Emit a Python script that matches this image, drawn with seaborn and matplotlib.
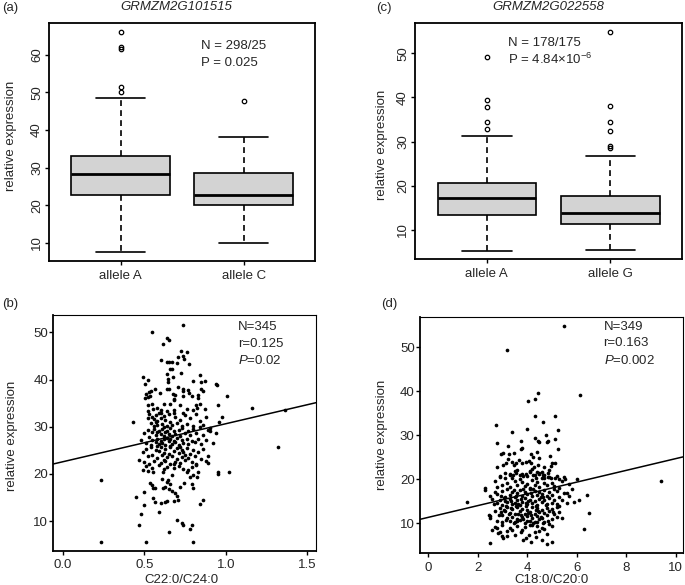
import pandas as pd
import seaborn as sns
import matplotlib.pyplot as plt

expr_a_A = [7.5, 12.0, 15.5, 18.0, 20.0, 21.5, 22.8, 24.0, 25.0, 26.0, 27.0, 27.8,
            28.3, 29.0, 30.0, 31.0, 32.0, 32.7, 33.2, 48.6, 50.2, 51.5, 61.6, 62.1, 66.1]
expr_a_C = [10.0, 14.0, 18.0, 20.0, 21.0, 22.0, 22.8, 24.5, 26.5, 28.6, 33.0, 38.1, 47.6]
alleles_a = ["allele A", "allele C"]

# (c) GRMZM2G022558 expression by allele
expr_c_A = [5.2, 7.5, 9.5, 11.0, 12.0, 12.8, 13.3, 14.0, 15.0, 15.8, 16.5, 17.0,
            17.25, 17.8, 18.5, 19.2, 19.8, 20.3, 20.7, 31.35, 32.9, 34.4, 37.9, 39.3, 49.2]
expr_c_G = [5.4, 6.8, 8.0, 9.0, 10.0, 10.7, 11.1, 11.36, 11.8, 12.3, 12.8, 13.2, 13.5, 13.7,
            13.9, 14.5, 15.0, 15.6, 16.2, 16.8, 17.3, 17.7, 26.75, 28.5, 29.0, 32.4, 34.4,
            38.07, 54.9]
alleles_c = ["allele A", "allele G"]

# (b) C22:0/C24:0 vs relative expression (approximate points)
pts_b_sparse = [(0.43, 31.0), (0.235, 18.8), (0.235, 5.5), (0.51, 5.5), (0.80, 5.5), (0.65, 7.6),
                (0.73, 9.5), (0.74, 9.1), (0.70, 10.2), (0.79, 9.2), (0.78, 8.4), (0.47, 9.1),
                (0.48, 11.5), (0.59, 12.0), (0.50, 13.5), (0.45, 15.2), (0.50, 16.2), (0.84, 13.6),
                (0.86, 14.4), (1.02, 20.4), (0.955, 20.4), (0.955, 20.0), (0.89, 23.8), (0.89, 22.3),
                (0.94, 28.6), (0.96, 31.0), (0.975, 32.1), (0.955, 34.7), (1.01, 36.5), (0.94, 39.0),
                (1.163, 33.9), (1.36, 33.5), (1.32, 25.7), (0.89, 29.4)]
pts_b_top = [(0.74, 51.6), (0.549, 50.2), (0.637, 48.8), (0.649, 48.5), (0.617, 47.6), (0.723, 46.1),
             (0.76, 45.9), (0.709, 44.9), (0.735, 45.1), (0.743, 44.3), (0.60, 44.2), (0.637, 43.7),
             (0.653, 43.7), (0.672, 43.8), (0.702, 43.6), (0.776, 43.3), (0.658, 42.3), (0.668, 42.3),
             (0.637, 41.1), (0.725, 41.3), (0.678, 40.6), (0.49, 40.6), (0.525, 39.9), (0.502, 39.0),
             (0.643, 40.1), (0.647, 39.4), (0.84, 40.9), (0.80, 39.7), (0.85, 39.4), (0.87, 39.6),
             (0.944, 38.9), (0.566, 38.1), (0.637, 38.0), (0.653, 38.0), (0.709, 38.5), (0.739, 38.0),
             (0.77, 37.9), (0.51, 37.0), (0.527, 37.3), (0.541, 37.6), (0.596, 37.2), (0.678, 36.9),
             (0.688, 36.7), (0.739, 37.5), (0.776, 37.2), (0.85, 38.0), (0.862, 37.6), (0.831, 36.8),
             (0.505, 36.0), (0.52, 36.3), (0.535, 36.5), (0.68, 35.9), (0.685, 35.6), (0.74, 36.5),
             (0.79, 36.6), (0.83, 36.2), (0.52, 34.6), (0.545, 34.9), (0.62, 34.9), (0.66, 34.9),
             (0.72, 34.6), (0.82, 34.7), (0.84, 34.9), (0.525, 33.4), (0.555, 33.7), (0.575, 33.9),
             (0.605, 33.5), (0.64, 33.4), (0.68, 33.5), (0.76, 33.8), (0.80, 33.5), (0.825, 33.9),
             (0.87, 33.7)]
pts_b_mid = [(0.53, 32.8), (0.55, 32.1), (0.56, 31.6), (0.57, 32.5), (0.58, 31.2), (0.59, 32.9),
             (0.60, 31.8), (0.61, 30.6), (0.62, 32.3), (0.63, 31.4), (0.58, 30.4), (0.56, 30.2),
             (0.54, 30.8), (0.52, 31.9), (0.64, 30.1), (0.65, 32.6), (0.66, 31.0), (0.67, 30.3),
             (0.69, 32.0), (0.70, 30.8), (0.72, 31.5), (0.73, 30.1), (0.75, 32.4), (0.76, 30.6),
             (0.78, 31.8), (0.80, 30.2), (0.82, 32.6), (0.84, 31.2), (0.86, 30.4), (0.88, 32.1),
             (0.90, 29.8), (0.60, 33.0), (0.68, 33.0), (0.74, 32.9), (0.57, 31.0),
             (0.48, 27.2), (0.50, 28.6), (0.51, 26.5), (0.52, 29.3), (0.53, 27.8), (0.54, 26.2),
             (0.55, 28.9), (0.55, 27.1), (0.56, 29.6), (0.57, 26.8), (0.57, 28.2), (0.58, 27.5),
             (0.59, 29.0), (0.59, 26.3), (0.60, 28.4), (0.60, 27.0), (0.61, 29.5), (0.61, 26.6),
             (0.62, 28.0), (0.62, 27.3), (0.63, 28.8), (0.63, 26.1), (0.64, 27.7), (0.64, 29.2),
             (0.65, 26.9), (0.65, 28.5), (0.66, 27.4), (0.66, 29.8), (0.67, 26.4), (0.67, 28.1),
             (0.68, 27.0), (0.68, 29.0), (0.69, 28.4), (0.69, 26.7), (0.70, 27.6), (0.71, 29.3),
             (0.71, 26.2), (0.72, 28.0), (0.73, 27.1), (0.73, 29.7), (0.74, 26.6), (0.75, 28.6),
             (0.76, 27.4), (0.77, 29.1), (0.77, 26.3), (0.78, 28.2), (0.79, 27.0), (0.80, 29.5),
             (0.81, 26.8), (0.82, 28.7), (0.83, 27.5), (0.84, 29.9), (0.85, 26.4), (0.86, 28.3),
             (0.88, 27.2), (0.90, 29.0), (0.92, 26.6), (0.58, 28.9), (0.62, 29.9), (0.66, 26.0)]
pts_b_low = [(0.47, 22.9), (0.49, 24.6), (0.50, 22.5), (0.51, 25.3), (0.52, 23.8), (0.53, 22.2),
             (0.54, 25.8), (0.55, 24.1), (0.56, 22.7), (0.57, 25.0), (0.58, 23.4), (0.59, 24.8),
             (0.60, 22.3), (0.60, 25.6), (0.61, 23.9), (0.62, 24.5), (0.63, 22.8), (0.63, 25.2),
             (0.64, 23.5), (0.65, 24.3), (0.66, 22.1), (0.66, 25.7), (0.67, 23.7), (0.68, 24.9),
             (0.69, 22.6), (0.70, 25.4), (0.70, 23.2), (0.71, 24.4), (0.72, 22.4), (0.73, 25.1),
             (0.73, 23.6), (0.74, 24.7), (0.75, 22.9), (0.76, 25.5), (0.77, 23.3), (0.78, 24.2),
             (0.79, 22.5), (0.80, 25.0), (0.81, 23.8), (0.82, 22.2), (0.83, 24.6), (0.85, 23.1),
             (0.86, 25.3), (0.88, 22.7), (0.58, 25.9), (0.68, 22.0), (0.75, 23.9), (0.62, 23.0),
             (0.72, 25.8), (0.49, 20.9), (0.51, 21.6), (0.55, 21.2), (0.59, 21.8), (0.62, 21.0),
             (0.64, 21.5), (0.68, 21.3), (0.71, 21.7), (0.74, 21.1), (0.77, 20.8), (0.79, 21.4),
             (0.82, 21.9),
             (0.535, 18.1), (0.545, 17.6), (0.555, 17.1), (0.566, 16.9), (0.551, 14.8), (0.566, 14.0),
             (0.60, 13.9), (0.629, 14.0), (0.637, 14.3), (0.613, 16.9), (0.627, 17.3), (0.653, 16.7),
             (0.668, 16.4), (0.688, 15.9), (0.703, 15.4), (0.709, 14.4), (0.684, 14.3), (0.606, 19.0),
             (0.637, 18.3), (0.658, 17.8), (0.647, 18.7), (0.719, 17.3), (0.745, 18.1), (0.78, 19.4),
             (0.80, 19.7), (0.79, 17.8), (0.80, 16.9), (0.821, 19.4), (0.831, 20.4), (0.617, 20.4),
             (0.668, 19.7), (0.555, 20.4), (0.525, 20.6), (0.76, 20.4)]
fit_b = (22.57, 8.07)   # intercept, slope

# (d) C18:0/C20:0 vs relative expression (approximate points)
pts_d_sparse = [(1.59, 14.9), (2.29, 18.0), (3.19, 49.4), (5.5, 54.9), (4.42, 39.5), (4.05, 37.9),
                (4.31, 38.2), (6.15, 39.2), (4.33, 34.4), (5.12, 34.4), (2.74, 32.4), (3.99, 31.4),
                (3.37, 30.7), (5.26, 31.2), (4.65, 33.0), (2.8, 28.2), (9.4, 19.6), (6.3, 8.7),
                (6.5, 12.3), (6.4, 16.5), (6.1, 15.2), (5.9, 14.8), (5.7, 16.2), (5.8, 17.8),
                (5.6, 16.8), (6.0, 20.0), (5.7, 19.0), (5.5, 20.5)]
pts_d_upper = [(4.76, 30.1), (4.85, 28.8), (4.8, 28.4), (5.11, 29.1), (5.26, 26.8), (4.31, 29.3),
               (4.49, 28.4), (4.43, 28.8), (3.23, 27.6), (3.03, 25.9), (3.26, 25.7), (3.47, 25.9),
               (3.74, 26.8), (3.8, 27.0), (4.16, 25.8), (4.4, 26.1), (4.49, 24.8), (4.25, 25.0),
               (4.92, 25.3), (5.02, 23.6), (5.13, 23.8), (2.77, 22.9), (3.03, 23.3), (3.14, 23.8),
               (3.23, 24.5), (3.37, 24.0), (3.46, 23.3), (3.54, 23.8), (3.67, 24.3), (3.79, 23.8),
               (3.94, 24.0), (4.07, 24.2), (4.16, 23.6), (4.29, 22.9), (4.43, 23.3), (4.69, 22.9),
               (4.955, 23.0), (4.62, 21.7), (4.86, 21.4), (2.9, 20.6), (3.1, 20.4), (3.3, 21.2),
               (3.43, 21.0), (3.56, 21.5), (3.7, 21.0), (3.83, 20.8), (3.96, 21.3), (4.1, 21.7),
               (4.25, 20.9), (4.36, 20.3), (4.5, 21.2), (4.63, 20.9), (4.7, 20.2), (4.83, 20.6),
               (4.96, 20.4), (5.13, 20.2), (5.3, 20.0), (5.52, 20.1), (3.77, 28.8), (2.95, 25.8)]
pts_d_mid = [(2.7, 19.5), (2.9, 20.8), (3.0, 18.6), (3.1, 21.5), (3.2, 19.2), (3.3, 18.2),
             (3.4, 20.4), (3.5, 19.5), (3.5, 21.8), (3.6, 18.8), (3.7, 20.1), (3.8, 19.3),
             (3.8, 21.2), (3.9, 18.4), (4.0, 20.7), (4.0, 19.0), (4.1, 21.9), (4.1, 18.1),
             (4.2, 19.8), (4.3, 20.9), (4.3, 18.6), (4.4, 19.4), (4.5, 21.4), (4.5, 18.3),
             (4.6, 20.2), (4.7, 19.1), (4.7, 21.0), (4.8, 18.7), (4.9, 20.5), (5.0, 19.2),
             (5.1, 18.4), (5.2, 20.8), (5.4, 19.5), (3.3, 21.0), (4.4, 21.7), (3.6, 22.0),
             (4.9, 22.2), (2.8, 18.2), (5.3, 18.0), (4.2, 22.4),
             (2.3, 17.6), (2.5, 16.3), (2.6, 15.5), (2.7, 17.2), (2.8, 14.6), (2.8, 16.6),
             (2.9, 15.3), (3.0, 17.4), (3.0, 14.2), (3.1, 16.0), (3.1, 15.1), (3.2, 17.8),
             (3.2, 14.8), (3.3, 16.5), (3.3, 15.6), (3.4, 14.3), (3.4, 17.1), (3.5, 15.9),
             (3.5, 14.7), (3.6, 16.8), (3.6, 15.2), (3.7, 14.1), (3.7, 17.5), (3.8, 16.2),
             (3.8, 14.9), (3.9, 15.7), (3.9, 17.0), (4.0, 14.4), (4.0, 16.6), (4.1, 15.4),
             (4.1, 17.7), (4.2, 14.6), (4.2, 16.1), (4.3, 15.0), (4.3, 17.3), (4.4, 14.2),
             (4.4, 16.4), (4.5, 15.6), (4.5, 17.0), (4.6, 14.8), (4.6, 16.7), (4.7, 15.3),
             (4.7, 17.6), (4.8, 14.4), (4.8, 16.2), (4.9, 15.8), (4.9, 17.2), (5.0, 14.7),
             (5.0, 16.4), (5.1, 15.2), (5.2, 17.4), (5.2, 14.3), (5.3, 16.0), (5.4, 15.3),
             (5.5, 16.9), (3.35, 15.0), (3.55, 16.3), (3.75, 15.5), (3.95, 14.5), (4.15, 16.9),
             (4.35, 14.0), (4.55, 16.0), (3.45, 17.6), (3.65, 14.4), (3.85, 17.9), (4.05, 15.1),
             (4.25, 17.9), (4.65, 15.9), (2.95, 16.1), (3.15, 14.0), (5.1, 17.8), (4.75, 14.1),
             (3.05, 15.7), (2.65, 14.3), (5.6, 14.6)]
pts_d_low = [(2.5, 11.6), (2.5, 11.2), (2.7, 12.8), (2.8, 10.5), (2.9, 13.5), (3.0, 11.8),
             (3.0, 10.2), (3.1, 12.9), (3.2, 11.1), (3.2, 13.8), (3.3, 10.6), (3.3, 12.4),
             (3.4, 11.5), (3.4, 13.2), (3.5, 10.3), (3.5, 12.1), (3.6, 13.6), (3.6, 11.0),
             (3.7, 12.7), (3.7, 10.7), (3.8, 13.3), (3.8, 11.4), (3.9, 12.2), (3.9, 10.1),
             (4.0, 13.0), (4.0, 11.7), (4.1, 10.5), (4.1, 12.6), (4.2, 13.7), (4.2, 11.2),
             (4.3, 12.0), (4.3, 10.3), (4.4, 13.4), (4.4, 11.6), (4.5, 12.5), (4.5, 10.9),
             (4.6, 13.1), (4.6, 11.3), (4.7, 12.3), (4.7, 10.4), (4.8, 13.5), (4.8, 11.8),
             (4.9, 12.7), (5.0, 11.0), (5.0, 13.2), (5.1, 12.1), (5.2, 13.8), (5.2, 11.4),
             (5.3, 12.6), (5.4, 11.2), (3.45, 10.0), (3.65, 12.0), (3.85, 10.9), (4.05, 12.4),
             (4.25, 10.0), (4.45, 12.9), (4.65, 10.0), (3.25, 12.0), (3.05, 13.0), (2.85, 11.8),
             (3.55, 13.9), (3.75, 11.9), (3.95, 13.9), (4.15, 11.9), (4.35, 13.0), (4.55, 11.5),
             (4.85, 10.6), (5.05, 12.6), (3.15, 10.8), (3.35, 13.5), (2.95, 12.5), (3.6, 10.5),
             (4.0, 10.6), (4.4, 10.2), (5.3, 13.9),
             (2.48, 5.6), (2.57, 8.5), (2.77, 8.9), (2.84, 7.7), (2.97, 7.0), (3.03, 6.6),
             (3.17, 7.1), (3.76, 8.1), (3.83, 6.1), (3.96, 6.6), (4.09, 7.3), (4.36, 6.8),
             (4.6, 6.1), (4.82, 5.4), (4.16, 5.8), (5.0, 5.8), (2.44, 11.9), (3.5, 7.3),
             (3.9, 9.1), (4.2, 9.5), (4.5, 8.2), (4.8, 7.5), (4.9, 9.8), (3.4, 8.5), (3.3, 9.0),
             (2.7, 9.2), (2.9, 8.0), (3.0, 9.6), (3.2, 8.2), (3.6, 9.4), (3.8, 8.4), (4.1, 9.7),
             (4.3, 8.0), (4.4, 9.3), (4.6, 9.0), (4.7, 8.6), (5.0, 9.3)]
fit_d = (11.34, 1.335)

sns.set_style("ticks")
plt.rcParams["font.family"] = ["Liberation Sans", "DejaVu Sans"]
plt.rcParams["font.size"] = 9.5
plt.rcParams["mathtext.fontset"] = "custom"
plt.rcParams["mathtext.rm"] = "Liberation Sans"
plt.rcParams["mathtext.it"] = "Liberation Sans:italic"
plt.rcParams["mathtext.default"] = "regular"

fig = plt.figure(figsize=(6.85, 5.85), dpi=100)
ax_a = fig.add_axes([0.0720, 0.5543, 0.3879, 0.4058])
ax_c = fig.add_axes([0.6063, 0.5568, 0.3889, 0.4044])
ax_b = fig.add_axes([0.0778, 0.0586, 0.3835, 0.4029])
ax_d = fig.add_axes([0.6131, 0.0542, 0.3840, 0.4044])


def box_panel(ax, vals1, vals2, labels, ylim, yticks):
    df = pd.DataFrame({"allele": [labels[0]] * len(vals1) + [labels[1]] * len(vals2),
                       "expr": vals1 + vals2})
    sns.boxplot(data=df, x="allele", y="expr", order=labels, ax=ax, color="#d3d3d3",
                saturation=1, width=0.8, linecolor="black", linewidth=1.2, whis=1.5,
                whiskerprops={"linestyle": (0, (3.5, 2.5))},
                medianprops={"linewidth": 2.0},
                flierprops={"marker": "o", "markersize": 3.2, "markerfacecolor": "none",
                            "markeredgecolor": "black", "markeredgewidth": 0.9})
    ax.set_xlim(-0.58, 1.58)
    ax.set_ylim(*ylim)
    ax.set_yticks(yticks)
    ax.set_xlabel("")
    ax.set_ylabel("relative expression", fontsize=9.5)
    ax.tick_params(axis="both", length=3, width=1.0, color="black", labelsize=9.5)
    ax.tick_params(axis="y", labelrotation=90, pad=1.5)
    ax.tick_params(axis="x", pad=3.5)
    for t in ax.get_yticklabels():
        t.set_va("center")
    for sp in ax.spines.values():
        sp.set_linewidth(1.3)
        sp.set_color("black")


box_panel(ax_a, expr_a_A, expr_a_C, alleles_a, (5.2, 68.4), [10, 20, 30, 40, 50, 60])
box_panel(ax_c, expr_c_A, expr_c_G, alleles_c, (3.37, 56.9), [10, 20, 30, 40, 50])
ax_a.yaxis.set_label_coords(-0.1216, 0.527)
ax_c.yaxis.set_label_coords(-0.1036, 0.483)

ax_a.text(0.571, 0.906, "N = 298/25", transform=ax_a.transAxes, va="center", fontsize=9.5)
ax_a.text(0.571, 0.831, "P = 0.025", transform=ax_a.transAxes, va="center", fontsize=9.5)
ax_c.text(0.347, 0.915, "N = 178/175", transform=ax_c.transAxes, va="center", fontsize=9.5)
ax_c.text(0.347, 0.843, r"P = 4.84×$10^{-6}$", transform=ax_c.transAxes, va="center",
          fontsize=9.5)


def scatter_panel(ax, pts, fit, xlim, ylim, xticks, yticks, xlabel, notes):
    df = pd.DataFrame(pts, columns=["ratio", "expr"])
    sns.scatterplot(data=df, x="ratio", y="expr", ax=ax, color="black", s=7, linewidth=0)
    ax.set_xlim(*xlim)
    ax.set_ylim(*ylim)
    ax.axline((0, fit[0]), slope=fit[1], color="black", lw=1.1)
    ax.set_xticks(xticks)
    ax.set_yticks(yticks)
    ax.set_xlabel(xlabel, fontsize=9.5)
    ax.set_ylabel("relative expression", fontsize=9.5)
    ax.tick_params(axis="both", length=3, width=1.0, color="black", labelsize=9.5)
    ax.tick_params(axis="y", pad=0.8)
    ax.tick_params(axis="x", pad=3)
    for name, sp in ax.spines.items():
        sp.set_color("black")
        sp.set_linewidth(1.3 if name in ("left", "bottom") else 0.8)
    x0, ys = notes[0], notes[1]
    ax.text(x0, ys[0], notes[2], transform=ax.transAxes, va="center", fontsize=9.5)
    ax.text(x0, ys[1], notes[3], transform=ax.transAxes, va="center", fontsize=9.5)
    ax.text(x0, ys[2], notes[4], transform=ax.transAxes, va="center", fontsize=9.5)


scatter_panel(ax_b, pts_b_sparse + pts_b_top + pts_b_mid + pts_b_low, fit_b,
              (-0.058, 1.553), (3.7, 53.7), [0.0, 0.5, 1.0, 1.5], [10, 20, 30, 40, 50],
              "C22:0/C24:0",
              (0.704, (0.948, 0.877, 0.806), "N=345", "r=0.125", r"$\mathit{P}$=0.02"))
scatter_panel(ax_d, pts_d_sparse + pts_d_upper + pts_d_mid + pts_d_low, fit_d,
              (-0.33, 10.3), (3.18, 56.95), [0, 2, 4, 6, 8, 10], [10, 20, 30, 40, 50],
              "C18:0/C20:0",
              (0.698, (0.955, 0.888, 0.814), "N=349", "r=0.163", r"$\mathit{P}$=0.002"))
ax_b.yaxis.set_label_coords(-0.134, 0.488)
ax_d.yaxis.set_label_coords(-0.12, 0.5)
ax_b.xaxis.set_label_coords(0.489, -0.098)
ax_d.xaxis.set_label_coords(0.499, -0.088)

# panel letters and gene titles
fig.text(2 / 685, 1 - 8 / 585, "(a)", va="center", ha="left", fontsize=9.5)
fig.text(376 / 685, 1 - 8 / 585, "(c)", va="center", ha="left", fontsize=9.5)
fig.text(2 / 685, 1 - 304 / 585, "(b)", va="center", ha="left", fontsize=9.5)
fig.text(381 / 685, 1 - 304 / 585, "(d)", va="center", ha="left", fontsize=9.5)
fig.text(176 / 685, 1 - 7 / 585, "GRMZM2G101515", style="italic", ha="center", va="center",
         fontsize=9.5)
fig.text(548 / 685, 1 - 7 / 585, "GRMZM2G022558", style="italic", ha="center", va="center",
         fontsize=9.5)

fig.savefig("out.png", dpi=100)
